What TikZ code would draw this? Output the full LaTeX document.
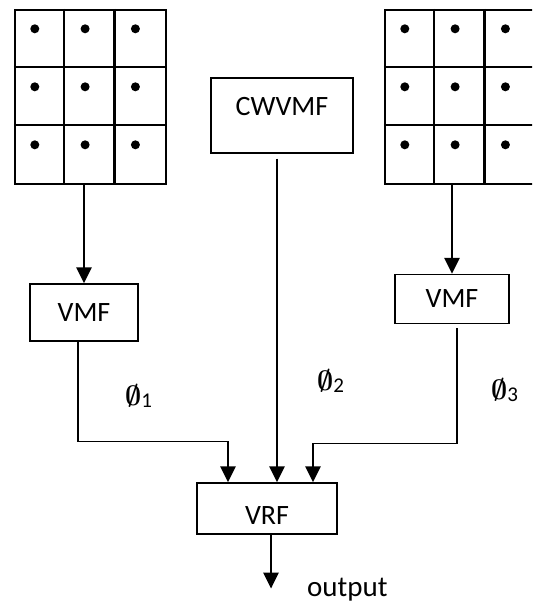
\RequirePackage{fix-cm}
\documentclass[tikz,border=0pt]{standalone}
\usepackage{fontspec}
\usepackage{tikz}
\usetikzlibrary{arrows.meta}

\newfontfamily\blkfont{Carlito}
\newcommand{\filtfont}{\blkfont\fontsize{28}{32}\selectfont}
\newcommand{\wt}[1]{{\boldmath$\emptyset$}\raisebox{-2.5pt}{\blkfont\fontsize{21}{24}\selectfont #1}}

\begin{document}
\begin{tikzpicture}[x=1pt, y=-1pt]

% Defined styles
\tikzstyle{window} = [rectangle, draw=black, line width=2.4pt, minimum width=151pt, minimum height=174pt, inner sep=0pt]
\tikzstyle{filt} = [rectangle, draw=black, line width=1.3pt, inner sep=0pt, font=\filtfont]
\tikzstyle{arrow} = [line width=2.8pt, -{Triangle[length=16pt, width=15pt]}]
\tikzstyle{wire} = [line width=1.6pt]
\tikzstyle{weight} = [anchor=base west, inner sep=0pt, font=\fontsize{28}{32}\selectfont]

\useasboundingbox (0,0) rectangle (532,601);
\clip (0,0) rectangle (532,601);

% --- Input windows (3x3 pixels) ---
\node (lwin) [window] at (90.5,97) {};
\node (rwin) [window] at (460.5,97) {};
\foreach \w in {lwin,rwin} {
  \foreach \k in {1,2} {
    \draw [line width=2.4pt] (\w.north west) ++(\k*50.3,0) -- ++(0,174);
    \draw [line width=2.4pt] (\w.north west) ++(0,\k*58) -- ++(151,0);
  }
  \foreach \i in {0,1,2}
    \foreach \j in {0,1,2}
      \fill (\w.north west) ++(21+\i*50.3,20+\j*58) circle (4.5pt);
}

% --- Filters ---
\node (cw) [filt, minimum width=142pt, text height=38pt, text depth=37pt] at (282,115.5) {CWVMF};
\node (lvmf) [filt, minimum width=108pt, minimum height=57pt] at (84,312.5) {VMF};
\node (rvmf) [filt, minimum width=114pt, minimum height=49pt] at (452,299) {VMF};
\node (vrf) [filt, minimum width=140pt, text height=41pt, text depth=10pt] at (267,508.5) {VRF};

% inputs of VRF and the output end
\coordinate (in1) at ([xshift=-39pt]vrf.north);
\coordinate (in2) at ([xshift=10pt]vrf.north);
\coordinate (in3) at ([xshift=46pt]vrf.north);
\coordinate (out) at ([xshift=4pt, yshift=-54pt]vrf.south);

% --- Arrows ---
\draw [arrow] (lvmf.north |- lwin.south) -- (lvmf.north);
\draw [arrow] (rvmf.north |- rwin.south) -- (rvmf.north);
\draw [arrow] ([yshift=-5pt]cw.south -| in2) -- (in2);

\draw [wire] ([xshift=-6pt]lvmf.south) |- ([yshift=41pt]in1);
\draw [arrow] ([yshift=41pt]in1) -- (in1);
\draw [wire] ([xshift=5pt, yshift=-4pt]rvmf.south) |- ([yshift=39pt]in3);
\draw [arrow] ([yshift=39pt]in3) -- (in3);

\draw [arrow] (vrf.south -| out) -- (out);

% --- Labels ---
\node (phi1) [weight] at (125,405) {\wt{1}};
\node (phi2) [weight] at (317,390) {\wt{2}};
\node (phi3) [weight] at (491,399) {\wt{3}};
\node (outlbl) [anchor=base west, inner sep=0pt, font=\blkfont\fontsize{29}{33}\selectfont] at (307,596) {output};

\end{tikzpicture}
\end{document}
